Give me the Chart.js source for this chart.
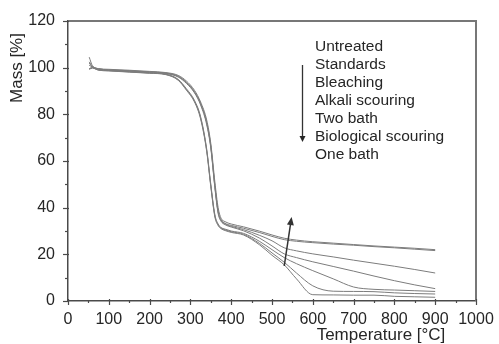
<!DOCTYPE html>
<html>
<head>
<meta charset="utf-8">
<script src="https://cdn.jsdelivr.net/npm/chart.js@4/dist/chart.umd.min.js"></script>
<style>
html,body{margin:0;padding:0;background:#fff;}
#wrap{width:499px;height:344px;position:relative;}
</style>
</head>
<body>
<div id="wrap"><canvas id="c" width="499" height="344"></canvas></div>
<script>
// Temperatures [°C] (shared x values)
const temperatures = [52, 60, 75, 100, 150, 200, 240, 270, 290, 310, 325, 340, 350, 360, 368, 375, 385, 400, 430, 470, 500, 530, 560, 600, 650, 700, 750, 800, 850, 900];

// Mass [%] per treatment
const untreated  = [104.5, 100.8, 99.6, 99.3, 98.9, 98.4, 97.9, 96.7, 94.3, 90.3, 85.3, 77.5, 67.5, 51, 40, 35.5, 34, 33, 31.8, 29.9, 28.3, 26.9, 26.1, 25.4, 24.8, 24.2, 23.6, 23.1, 22.6, 22.0];
const standards  = [102.5, 100.5, 99.5, 99.1, 98.7, 98.2, 97.7, 96.4, 93.8, 89.7, 84.7, 76.5, 66.5, 49.5, 38.5, 34.8, 33.3, 32.4, 31.2, 29.3, 27.7, 26.3, 25.6, 25.0, 24.4, 23.9, 23.3, 22.8, 22.2, 21.6];
const bleaching  = [99.5, 100.2, 99.4, 99.0, 98.6, 98.1, 97.6, 96.2, 93.6, 89.5, 84.5, 76.2, 66, 49, 38, 34.5, 33, 32, 30.6, 28.1, 25.8, 22.8, 21.5, 20.2, 18.9, 17.5, 16.2, 14.9, 13.5, 12.0];
const alkali     = [101, 100.3, 99.3, 98.9, 98.5, 98.0, 97.5, 96.0, 93.3, 89.2, 84, 75.5, 65.5, 48.5, 37.5, 34.2, 32.7, 31.7, 30.1, 26.9, 23.6, 20.2, 18.6, 16.8, 14.8, 12.8, 10.7, 8.7, 6.9, 5.3];
const twoBath    = [99.5, 100, 99, 98.8, 98.3, 97.8, 97.2, 95, 91, 86, 79, 65, 50, 37, 33, 31.5, 30.8, 30, 29, 25.5, 22, 18.6, 16, 13, 9.5, 6, 5, 4.7, 4.4, 4.1];
const biological = [102, 100.2, 99.1, 98.7, 98.2, 97.7, 97.1, 94.8, 90.7, 85.6, 78.5, 64.5, 49.5, 36.5, 32.7, 31.3, 30.5, 29.7, 28.6, 24.6, 20.6, 16.6, 12, 6.5, 4.2, 4.1, 4.0, 3.5, 3.2, 3.0];
const oneBath    = [99.3, 99.8, 98.9, 98.6, 98.1, 97.6, 97.0, 94.6, 90.4, 85.3, 78, 64, 49, 36, 32.3, 31, 30.2, 29.4, 28.3, 24, 19.6, 15.5, 9.5, 2.7, 2.6, 2.5, 2.5, 2.0, 1.8, 1.6];

const seriesNames = ["Untreated", "Standards", "Bleaching", "Alkali scouring", "Two bath", "Biological scouring", "One bath"];
const seriesValues = [untreated, standards, bleaching, alkali, twoBath, biological, oneBath];

// Axis ticks
const xTicks = [0, 100, 200, 300, 400, 500, 600, 700, 800, 900, 1000];
const yTicks = [0, 20, 40, 60, 80, 100, 120];

// Trend arrow in the plot (data coordinates: [temperature, mass])
const trendArrowFrom = [530, 15];
const trendArrowTo = [548, 36];

const datasets = seriesValues.map((vals, i) => ({
  label: seriesNames[i],
  data: temperatures.map((t, j) => ({x: t, y: vals[j]})),
  borderColor: '#7c7c7c',
  borderWidth: 1,
  pointRadius: 0,
  fill: false,
  cubicInterpolationMode: 'monotone'
}));

const FONT = '"Liberation Sans", Arial, Helvetica, sans-serif';
const AXIS = '#4a4a4a';
const TXT = '#262626';

function arrowHead(ctx, x1, y1, x2, y2, len, half) {
  const a = Math.atan2(y2 - y1, x2 - x1);
  ctx.beginPath();
  ctx.moveTo(x2, y2);
  ctx.lineTo(x2 - len*Math.cos(a) + half*Math.sin(a), y2 - len*Math.sin(a) - half*Math.cos(a));
  ctx.lineTo(x2 - len*Math.cos(a) - half*Math.sin(a), y2 - len*Math.sin(a) + half*Math.cos(a));
  ctx.closePath();
  ctx.fill();
}

const decor = {
  id: 'decor',
  afterDraw(chart) {
    const ctx = chart.ctx;
    const xs = chart.scales.x, ys = chart.scales.y;
    const ca = chart.chartArea;
    ctx.save();
    // frame top & right
    ctx.strokeStyle = '#777';
    ctx.lineWidth = 2;
    ctx.beginPath();
    ctx.moveTo(ca.left, ca.top);
    ctx.lineTo(ca.right, ca.top);
    ctx.lineTo(ca.right, ca.bottom);
    ctx.stroke();
    // ticks
    ctx.strokeStyle = AXIS;
    ctx.lineWidth = 1.2;
    for (let v = 0; v <= 1000; v += 50) {
      const px = Math.round(xs.getPixelForValue(v)) + 0.5;
      const major = v % 100 === 0;
      ctx.beginPath();
      ctx.moveTo(px, ca.bottom - (major ? 2 : 1));
      ctx.lineTo(px, ca.bottom + (major ? 4 : 2));
      ctx.stroke();
    }
    for (let v = 0; v <= 120; v += 10) {
      const py = Math.round(ys.getPixelForValue(v)) + 0.5;
      const major = v % 20 === 0;
      ctx.beginPath();
      ctx.moveTo(ca.left + (major ? 1 : 0), py);
      ctx.lineTo(ca.left - (major ? 5 : 3), py);
      ctx.stroke();
    }
    // trend arrow
    const ax1 = xs.getPixelForValue(trendArrowFrom[0]), ay1 = ys.getPixelForValue(trendArrowFrom[1]);
    const ax2 = xs.getPixelForValue(trendArrowTo[0]), ay2 = ys.getPixelForValue(trendArrowTo[1]);
    ctx.strokeStyle = '#333';
    ctx.fillStyle = '#333';
    ctx.lineWidth = 1.5;
    ctx.beginPath();
    ctx.moveTo(ax1, ay1);
    ctx.lineTo(ax2 - (ax2-ax1)*0.12, ay2 - (ay2-ay1)*0.12);
    ctx.stroke();
    arrowHead(ctx, ax1, ay1, ax2, ay2, 8, 3.5);
    // legend
    ctx.fillStyle = TXT;
    ctx.font = '15.5px ' + FONT;
    ctx.textBaseline = 'middle';
    ctx.textAlign = 'left';
    const lx = 315, ly0 = 46.7, dy = 18.05;
    seriesNames.forEach((n, i) => ctx.fillText(n, lx, ly0 + i*dy));
    // legend arrow
    ctx.strokeStyle = '#333';
    ctx.lineWidth = 1.3;
    ctx.beginPath();
    ctx.moveTo(302.5, 65);
    ctx.lineTo(302.5, 137);
    ctx.stroke();
    arrowHead(ctx, 302.5, 65, 302.5, 142, 6, 3);
    // axis titles
    ctx.font = '17px ' + FONT;
    ctx.textAlign = 'center';
    ctx.fillText('Temperature [°C]', 381, 335);
    ctx.save();
    ctx.translate(17.5, 68);
    ctx.rotate(-Math.PI/2);
    ctx.fillText('Mass [%]', 0, 0);
    ctx.restore();
    ctx.restore();
  }
};

new Chart(document.getElementById('c'), {
  type: 'line',
  data: { datasets },
  options: {
    responsive: false,
    animation: false,
    devicePixelRatio: 1,
    layout: { padding: { left: 0, top: 21, right: 23, bottom: 0 } },
    plugins: { legend: { display: false }, tooltip: { enabled: false } },
    scales: {
      x: {
        type: 'linear', min: 0, max: 1000,
        afterBuildTicks: s => { s.ticks = xTicks.map(v => ({value: v})); },
        afterFit: s => { s.height = 43; },
        grid: { display: false },
        border: { display: true, color: AXIS, width: 1.5 },
        ticks: { color: TXT, font: { family: FONT, size: 16 }, padding: 1, maxRotation: 0, autoSkip: false,
                 callback: v => String(v) }
      },
      y: {
        type: 'linear', min: 0, max: 120,
        afterBuildTicks: s => { s.ticks = yTicks.map(v => ({value: v})); },
        afterFit: s => { s.width = 68; },
        grid: { display: false },
        border: { display: true, color: AXIS, width: 1.5 },
        ticks: { color: TXT, font: { family: FONT, size: 16 }, padding: 5, callback: v => String(v) }
      }
    }
  },
  plugins: [decor]
});
</script>
</body>
</html>
